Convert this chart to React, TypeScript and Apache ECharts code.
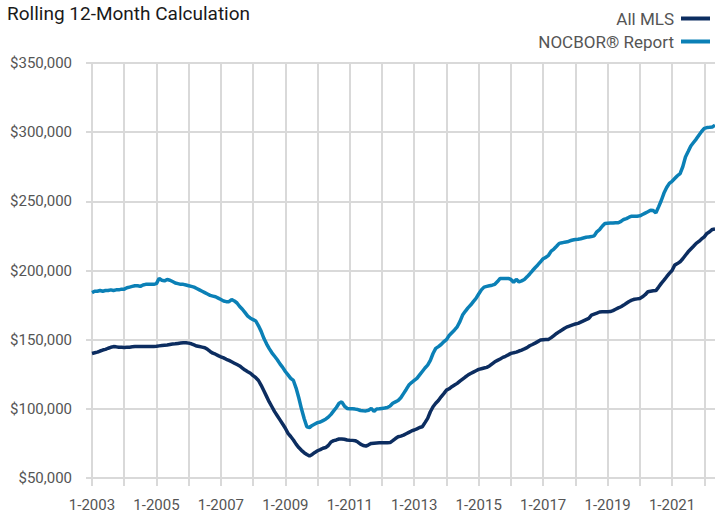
import React, { useEffect, useRef } from "react";
import * as echarts from "echarts";

const TITLE = "Rolling 12-Month Calculation";
const SERIES_NAMES = ["All MLS", "NOCBOR® Report"];
const START_YEAR = 2003;

// Monthly values in thousands of dollars, Jan 2003 .. May 2022
const allMls: number[] = [
  140, 140.5, 141, 141.8, 142.5, 143, 143.8, 144.5, 145, 144.8, 144.5, 144.5,
  144.4, 144.5, 144.6, 144.8, 145, 145, 145, 145, 145, 145, 145, 145,
  145.2, 145.5, 145.8, 146, 146.2, 146.5, 146.8, 147, 147.3, 147.6, 147.8, 147.8,
  147.5, 147, 146.2, 145.4, 145, 144.6, 144.2, 143, 141.5, 140.2, 139.5, 138.5,
  137.6, 136.8, 135.8, 135, 134, 133, 132, 131, 129.5, 128, 126.8, 125.7,
  124, 122.5, 120.5, 117, 113, 109, 105, 101.5, 98, 95, 92, 89,
  86, 82.3, 80, 77.5, 74.5, 72, 70, 68.3, 67, 65.9, 67, 68.5,
  69.7, 70.5, 71.5, 72, 73.5, 76, 77, 77.5, 78.2, 78.2, 78, 77.5,
  77.3, 77.2, 77, 76, 74.5, 73.5, 73.1, 74, 75, 75.2, 75.3, 75.4,
  75.5, 75.5, 75.5, 75.6, 77, 78.5, 79.8, 80.3, 81, 82, 83, 84,
  84.7, 85.5, 86.5, 87, 90, 93.1, 97.9, 101.5, 104, 106, 108.7, 111,
  113.5, 114.5, 116, 117.2, 118.4, 120, 121.5, 123, 124.4, 125.5, 126.5, 127.5,
  128.5, 129, 129.5, 130, 131, 132.5, 134, 135, 136, 137.2, 138, 139,
  140.1, 140.5, 141, 141.8, 142.5, 143.3, 144.2, 145.6, 146.5, 147.5, 148.6, 149.7,
  149.9, 150.1, 150.2, 151.5, 153, 154.5, 155.8, 157, 158.3, 159.3, 160, 160.7,
  161.3, 161.8, 162.7, 163.6, 164.5, 165.4, 167.8, 168.5, 169.2, 170, 170.2, 170.2,
  170.2, 170.3, 171, 172, 173, 173.8, 175, 176.3, 177.6, 178.6, 179.2, 179.5,
  179.8, 181, 182.5, 184.6, 185, 185.3, 185.5, 188, 190.7, 193, 195.5, 197.9,
  200, 203.9, 205, 206.3, 208.5, 211, 213.5, 215.5, 217.5, 219.6, 221, 222.8,
  224.3, 226.8, 228, 229.7, 230,
];

const nocbor: number[] = [
  184, 185, 185, 185.5, 185, 185.5, 185.5, 186, 185.5, 186, 186, 186.5,
  186.5, 187.5, 188, 188.5, 189, 189, 188.5, 189.5, 190, 190, 190, 190,
  190.5, 194.3, 193, 192.5, 193.5, 193, 192, 191, 190.5, 190, 190, 189.5,
  189, 188.5, 188, 187, 186, 185, 184, 183, 182, 181.5, 181, 180,
  179, 178, 177.5, 177.5, 179, 178, 176.5, 174, 172, 169.5, 167, 165.5,
  164.5, 163.5, 160, 156, 151, 147, 143.5, 140.5, 138, 135.5, 132.5, 130,
  127, 124.5, 122, 120.5, 115, 108, 100, 93, 87, 86.5, 88, 89,
  90, 90.5, 91.5, 92.5, 94, 96, 98.5, 101, 104, 105, 102, 100.3,
  100, 100, 99.8, 99.5, 98.8, 98.6, 98.5, 99, 100.3, 98.2, 99.9, 100,
  100.3, 100.6, 101, 102, 104, 105, 106, 108, 111, 114, 117.2, 119,
  120.5, 122, 124.5, 127, 129.5, 131.6, 135, 140, 143.7, 145, 146.5, 148.5,
  150, 153, 155, 157, 159.3, 163, 167.8, 170.5, 173, 175, 177.5, 179.8,
  183, 186, 188, 188.5, 189, 189.4, 190, 192, 194.3, 194.3, 194.3, 194.3,
  193.5, 191.5, 193.6, 191.8, 192.5, 193.5, 195.4, 197.5, 199.8, 202, 204, 206.3,
  208.5, 209.5, 211, 214, 215.5, 217.5, 219.6, 220, 220.5, 220.7, 221.5, 222,
  222.4, 222.6, 223, 223.5, 224, 224.3, 224.5, 225, 228, 229.5, 232, 234,
  234.2, 234.3, 234.3, 234.5, 234.5, 235.5, 236.9, 237.5, 238.5, 239.3, 239.3, 239.3,
  239.5, 240.5, 241.5, 242.5, 243.6, 243.3, 241.7, 246, 250.6, 256, 260, 263,
  264.5, 266.5, 268.5, 270.1, 275, 282.1, 286, 290, 292.5, 295, 297.8, 300.5,
  302.7, 303.3, 303.5, 303.8, 305,
];

const categories: string[] = allMls.map(
  (_, i) => `${(i % 12) + 1}-${START_YEAR + Math.floor(i / 12)}`
);

const FONT = "Roboto, 'Liberation Sans', sans-serif";
const GRID_COLOR = "#d9d9d9";

export default function App() {
  const ref = useRef<HTMLDivElement>(null);
  useEffect(() => {
    if (!ref.current) return;
    const chart = echarts.init(ref.current, undefined, { renderer: "svg" });
    chart.setOption({
      animation: false,
      backgroundColor: "#ffffff",
      title: {
        text: TITLE,
        left: 2,
        top: -1,
        textStyle: { fontFamily: FONT, fontSize: 19, fontWeight: "normal", color: "#1a1a1a" },
      },
      legend: {
        orient: "vertical",
        right: 0,
        top: 5,
        align: "right",
        itemWidth: 29,
        itemHeight: 4,
        itemGap: 6,
        icon: "rect",
        textStyle: { fontFamily: FONT, fontSize: 17, color: "#555555", padding: [0, 2, 0, 0] },
        data: SERIES_NAMES,
      },
      grid: { left: 92, right: 0, top: 63, bottom: 34, containLabel: false },
      xAxis: {
        type: "category",
        boundaryGap: false,
        data: categories,
        axisLine: { show: false },
        axisTick: {
          show: true,
          interval: (i: number) => i % 12 === 0,
          length: 8,
          lineStyle: { color: GRID_COLOR, width: 2 },
        },
        axisLabel: {
          interval: (i: number) => i % 24 === 0,
          margin: 19,
          fontFamily: FONT,
          fontSize: 15,
          color: "#555555",
        },
        splitLine: {
          show: true,
          interval: (i: number) => i % 12 === 0,
          lineStyle: { color: GRID_COLOR, width: 2 },
        },
      },
      yAxis: {
        type: "value",
        min: 50,
        max: 350,
        interval: 50,
        axisLine: { show: false },
        axisTick: { show: true, length: 6, lineStyle: { color: GRID_COLOR, width: 2 } },
        axisLabel: {
          margin: 20,
          fontFamily: FONT,
          fontSize: 15,
          color: "#555555",
          formatter: (v: number) => "$" + (v * 1000).toLocaleString("en-US"),
        },
        splitLine: { show: true, lineStyle: { color: GRID_COLOR, width: 2 } },
      },
      series: [
        {
          name: SERIES_NAMES[0],
          type: "line",
          data: allMls,
          showSymbol: false,
          symbol: "none",
          color: "#0c2d60",
          lineStyle: { width: 3.5, color: "#0c2d60" },
        },
        {
          name: SERIES_NAMES[1],
          type: "line",
          data: nocbor,
          showSymbol: false,
          symbol: "none",
          color: "#0b80b6",
          lineStyle: { width: 3.5, color: "#0b80b6" },
        },
      ],
    });
    return () => chart.dispose();
  }, []);
  return (
    <div
      ref={ref}
      style={{ position: "absolute", left: 0, top: 0, width: 715, height: 512 }}
    />
  );
}
